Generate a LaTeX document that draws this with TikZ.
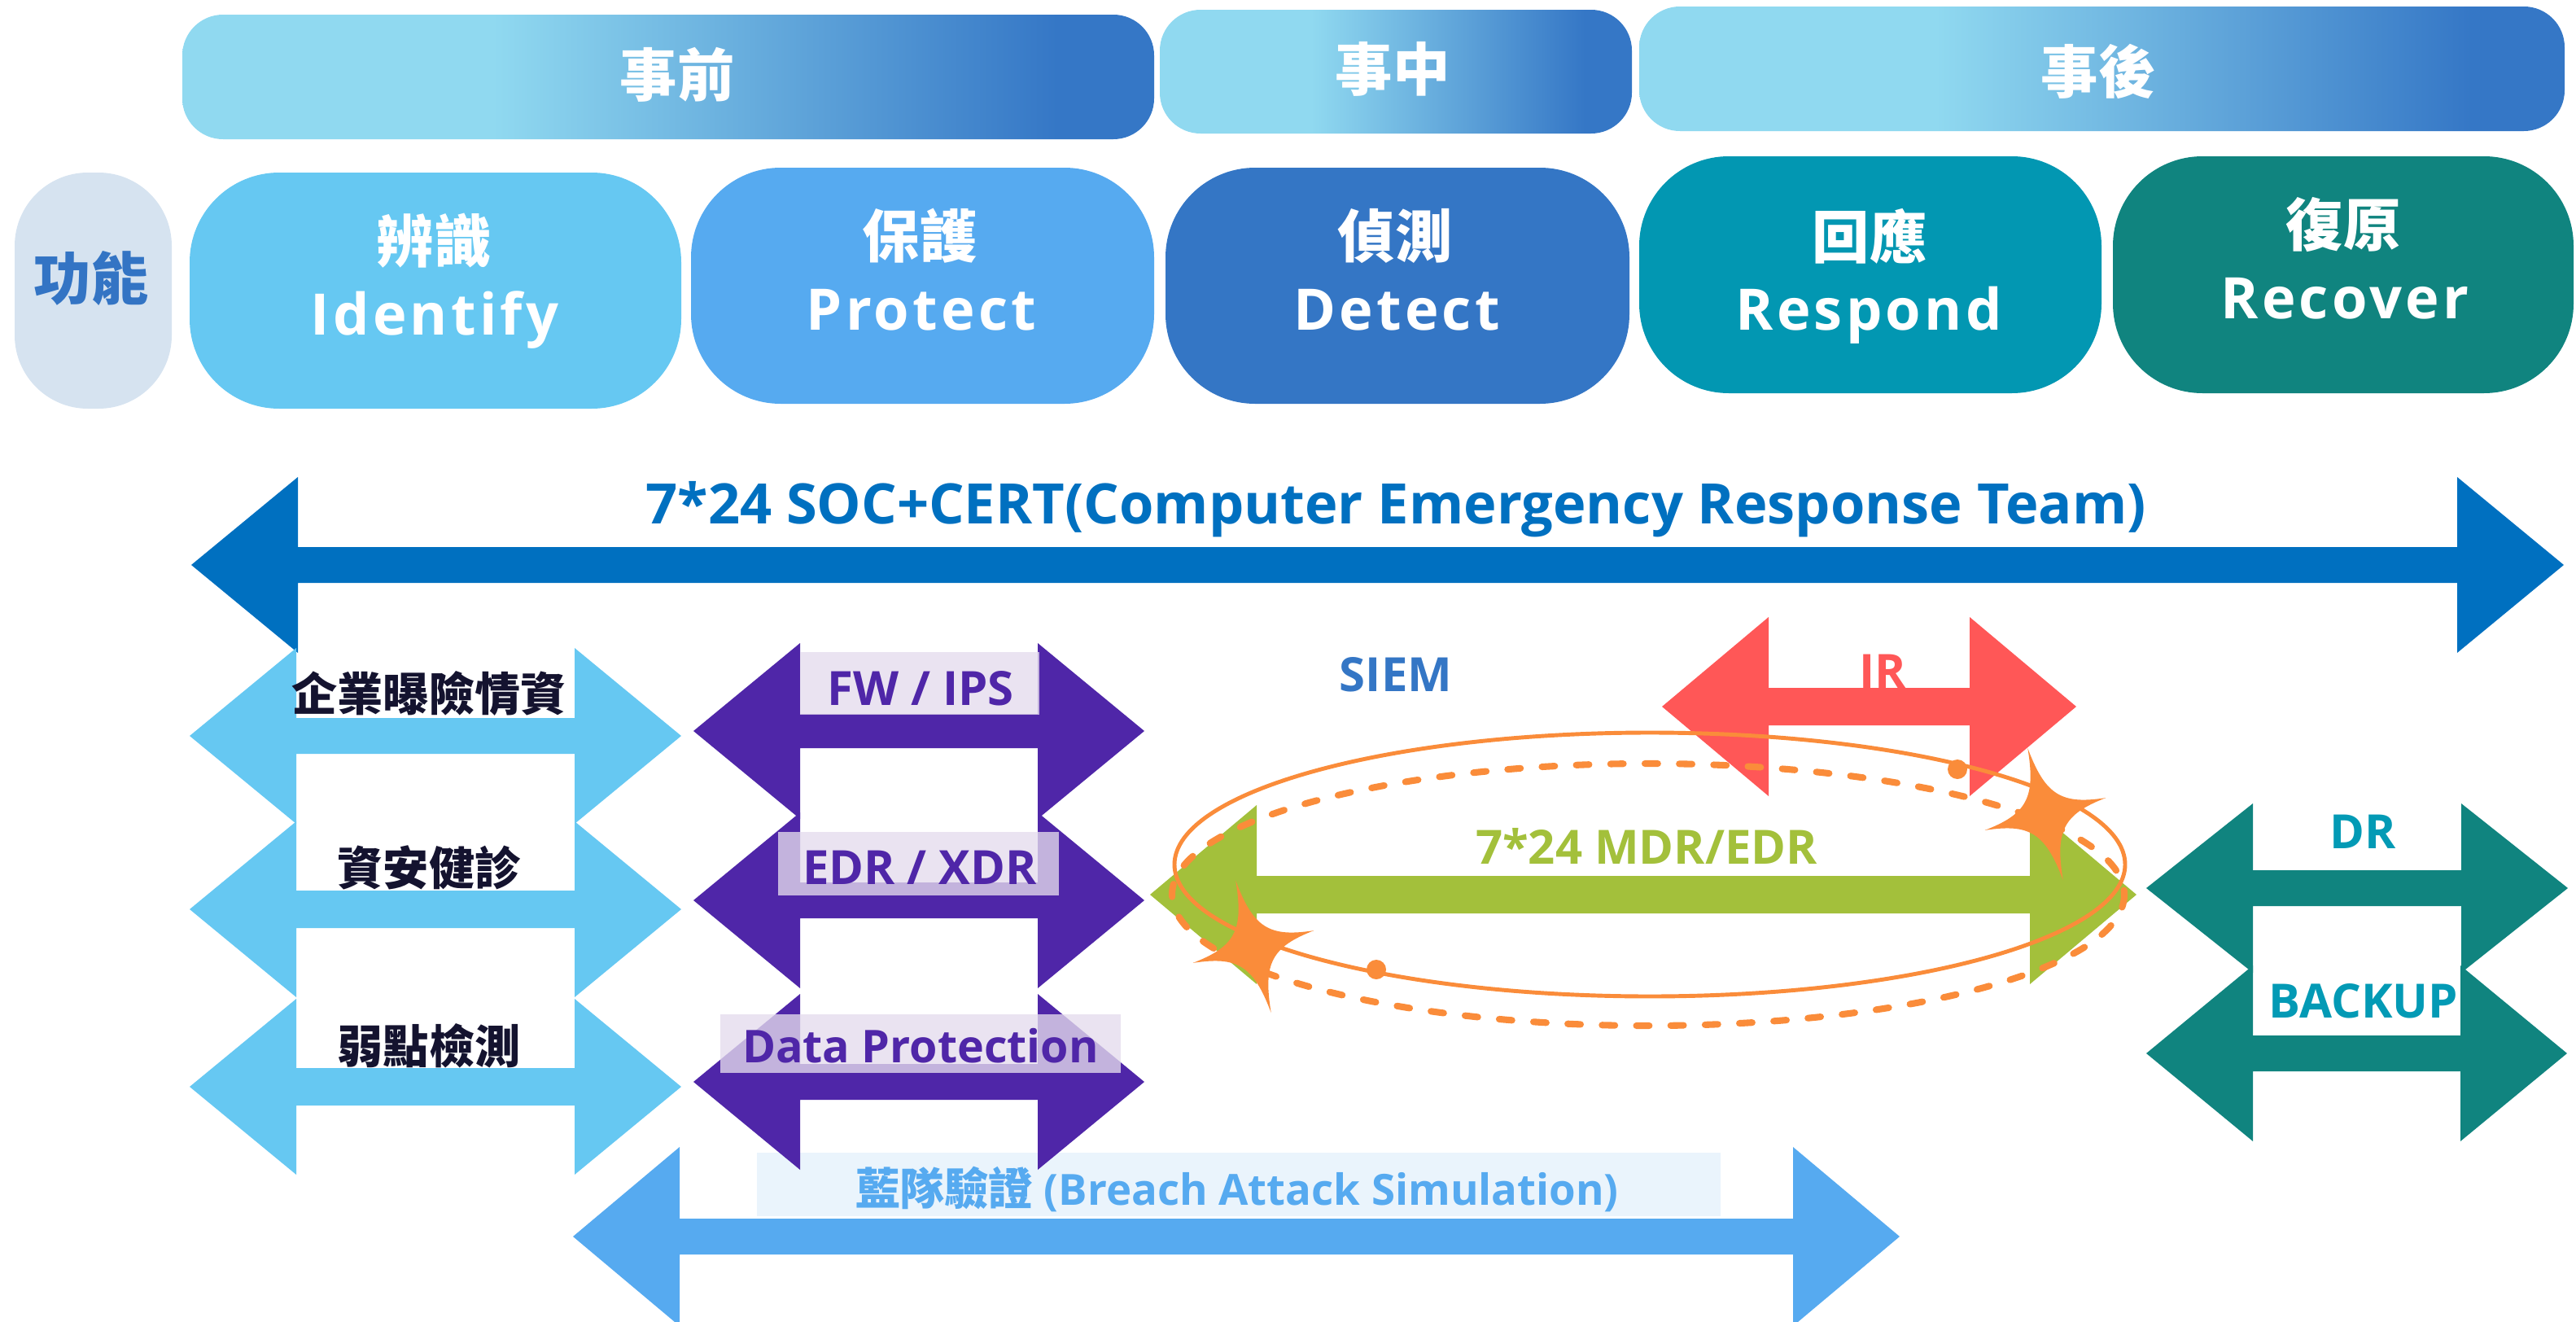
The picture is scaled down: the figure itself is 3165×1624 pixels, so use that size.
\documentclass[tikz,border=0pt]{standalone}
\usepackage{fontspec}
\setmainfont{Open Sans}
\newfontfamily\cjk{Noto Sans CJK TC}
\newfontfamily\spaced{Open Sans}[LetterSpace=6]

\definecolor{hdrlight}{HTML}{90D9F0}
\definecolor{hdrdark}{HTML}{3577C6}
\definecolor{fnbox}{HTML}{D6E3F0}
\definecolor{fntext}{HTML}{3374C4}
\definecolor{idcol}{HTML}{66C8F2}
\definecolor{prcol}{HTML}{56AAF0}
\definecolor{decol}{HTML}{3476C5}
\definecolor{rscol}{HTML}{0297B2}
\definecolor{rccol}{HTML}{10847F}
\definecolor{socblue}{HTML}{0070C0}
\definecolor{violet}{HTML}{4F26A8}
\definecolor{lavender}{HTML}{E4DBED}
\definecolor{mdrgreen}{HTML}{A3C03B}
\definecolor{irred}{HTML}{FF5757}
\definecolor{drtext}{HTML}{039AB5}
\definecolor{bluebox}{HTML}{EAF4FC}
\definecolor{sparkle}{HTML}{FA8C3A}
\definecolor{ink}{HTML}{14132F}

\pgfdeclarehorizontalshading{hdrshade}{100bp}{color(0bp)=(hdrlight); color(41bp)=(hdrlight); color(70bp)=(hdrdark); color(100bp)=(hdrdark)}

\begin{document}
\begin{tikzpicture}[x=0.01cm, y=-0.01cm,
  phase/.style={text=white, font=\cjk\bfseries\fontsize{20pt}{24pt}\selectfont},
  enname/.style={anchor=base, text=white, font=\spaced\bfseries\fontsize{20pt}{24pt}\selectfont},
  tag/.style={anchor=base, font=\bfseries\fontsize{16.5pt}{20pt}\selectfont},
  zhtag/.style={text=ink, font=\cjk\bfseries\fontsize{16pt}{19pt}\selectfont}]

\useasboundingbox (0,0) rectangle (3165,1624);

% Phase bars
\foreach \xa/\xb/\ya/\yb in {224/1418/18/171, 1425/2005/12/164, 2014/3151/8/161}
  \shade[shading=hdrshade, rounded corners=0.5cm] (\xa,\ya) rectangle (\xb,\yb);

% Function boxes
\fill[fnbox, rounded corners=0.9cm] (18,212) rectangle (211,502);
\foreach \xa/\xb/\ya/\yb/\col in {233/837/212/502/idcol, 849/1418/206/496/prcol,
                                  1432/2002/206/496/decol, 2014/2582/192/483/rscol,
                                  2596/3162/192/483/rccol}
  \fill[\col, rounded corners=1.1cm] (\xa,\ya) rectangle (\xb,\yb);

% Box behind the blue team label
\fill[bluebox] (930,1416) rectangle (2114,1494);

% Block arrows: tip, tip, middle, head half, shaft half, colour
\foreach \xa/\xb/\y/\hh/\sh/\col in {
    235/3150/694/108/22/socblue,
    233/837/904/108/22/idcol, 233/837/1117/108/23/idcol, 233/837/1335/108/23/idcol,
    852/1406/898/108/21/violet, 852/1406/1106/108/22/violet, 852/1406/1329/108/22/violet,
    1413/2625/1099/110/23/mdrgreen,
    2042/2551/868/110/23/irred,
    2637/3155/1091/104/22/rccol, 2637/3154/1294/108/22/rccol,
    704/2334/1519/110/22/prcol}
  \fill[\col] (\xa,\y) -- ({\xa+131},{\y-\hh}) -- ({\xa+131},{\y-\sh})
    -- ({\xb-131},{\y-\sh}) -- ({\xb-131},{\y-\hh}) -- (\xb,\y)
    -- ({\xb-131},{\y+\hh}) -- ({\xb-131},{\y+\sh}) -- ({\xa+131},{\y+\sh})
    -- ({\xa+131},{\y+\hh}) -- cycle;

% Tool label boxes
\foreach \xa/\ya/\xb/\yb in {983/801/1277/878, 956/1022/1301/1100, 885/1246/1377/1318}
  \fill[lavender, opacity=0.78] (\xa,\ya) rectangle (\xb,\yb);

% Orange rings
\draw[sparkle, line width=1.4pt] (2027,1062) ellipse [x radius=584, y radius=162];
\draw[sparkle, line width=2.3pt, line cap=round, dash pattern=on 4.5pt off 7.5pt]
  (2025,1099) ellipse [x radius=585, y radius=161];
\foreach \dx/\dy in {2405/945, 1691/1191}
  \fill[sparkle] (\dx,\dy) circle [radius=12];

% Sparkles
\foreach \sx/\sy in {2513/1000, 1540/1163}
  \fill[sparkle, shift={(\sx,\sy)}, rotate=15]
    (0,84) .. controls (6,22) and (22,6) .. (77,0)
    .. controls (22,-6) and (6,-22) .. (0,-84)
    .. controls (-6,-22) and (-22,-6) .. (-77,0)
    .. controls (-22,6) and (-6,22) .. cycle;

% Phases
\node[phase] (before) at (832,92) {事前};
\node[phase] (during) at (1711,85) {事中};
\node[phase] (after)  at (2578,88) {事後};

% Functions
\node[phase, text=fntext] (func) at (112,342) {功能};
\node[phase] (idzh) at (533,296) {辨識};
\node[phase] (przh) at (1130,290) {保護};
\node[phase] (dezh) at (1714,290) {偵測};
\node[phase] (rszh) at (2297,290) {回應};
\node[phase] (rczh) at (2879,276) {復原};
\node[enname] (iden) at (534,411) {Identify};
\node[enname] (pren) at (1132,405) {Protect};
\node[enname] (deen) at (1716,405) {Detect};
\node[enname] (rsen) at (2296,405) {Respond};
\node[enname] (rcen) at (2881,391) {Recover};

% SOC line
\node[tag, text=socblue, font=\bfseries\fontsize{19.5pt}{23pt}\selectfont] (soc) at (1715,643)
  {7*24 SOC+CERT(Computer Emergency Response Team)};

% Identify services
\node[zhtag] (expo)   at (527,852)  {企業曝險情資};
\node[zhtag] (health) at (527,1066) {資安健診};
\node[zhtag] (vuln)   at (527,1285) {弱點檢測};

% Protect tools
\node[tag, text=violet] (fwips)    at (1131,866)  {FW / IPS};
\node[tag, text=violet] (edrxdr)   at (1130,1086) {EDR / XDR};
\node[tag, text=violet, font=\bfseries\fontsize{15.8pt}{19pt}\selectfont] (dataprot) at (1131,1305) {Data Protection};

% Detect / respond / recover
\node[tag, text=decol]    (siem)   at (1715,849)  {SIEM};
\node[tag, text=irred]    (ir)     at (2313,845)  {IR};
\node[tag, text=mdrgreen] (mdr)    at (2023,1061) {7*24 MDR/EDR};
\node[tag, text=drtext]   (dr)     at (2903,1042) {DR};
\node[tag, text=drtext]   (backup) at (2904,1250) {BACKUP};

% Blue team
\node[tag, text=prcol, font=\bfseries\fontsize{15pt}{18pt}\selectfont] (bas) at (1520,1480)
  {{\cjk\fontsize{15.5pt}{18pt}\selectfont 藍隊驗證} (Breach Attack Simulation)};

\end{tikzpicture}
\end{document}
